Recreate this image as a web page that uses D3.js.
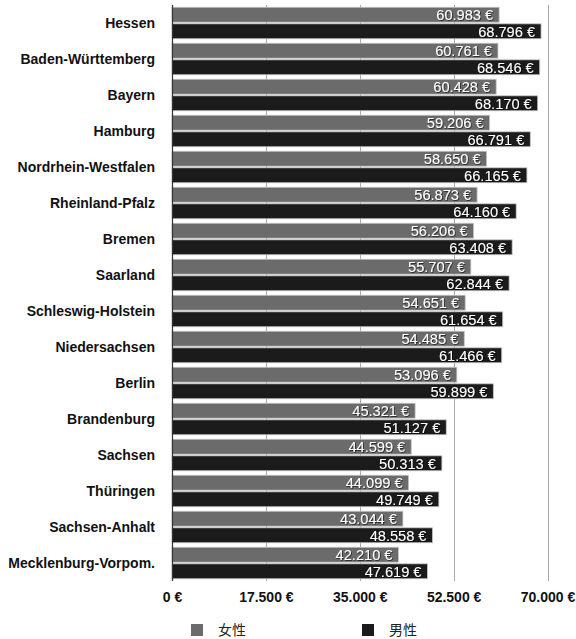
<!DOCTYPE html>
<html>
<head>
<meta charset="utf-8">
<script src="https://cdn.jsdelivr.net/npm/d3@7"></script>
<style>
  html, body { margin: 0; padding: 0; background: #fff; }
  svg { display: block; }
</style>
</head>
<body>
<svg id="chart" width="576" height="639"></svg>
<script>
// Average annual gross earnings by federal state, women vs. men
const states = [
  "Hessen", "Baden-Württemberg", "Bayern", "Hamburg", "Nordrhein-Westfalen",
  "Rheinland-Pfalz", "Bremen", "Saarland", "Schleswig-Holstein", "Niedersachsen",
  "Berlin", "Brandenburg", "Sachsen", "Thüringen", "Sachsen-Anhalt", "Mecklenburg-Vorpom."
];
const women = [60983, 60761, 60428, 59206, 58650, 56873, 56206, 55707, 54651, 54485, 53096, 45321, 44599, 44099, 43044, 42210];
const men   = [68796, 68546, 68170, 66791, 66165, 64160, 63408, 62844, 61654, 61466, 59899, 51127, 50313, 49749, 48558, 47619];
const seriesNames = ["女性", "男性"];
const seriesColors = ["#6b6b6b", "#1b1b1b"];
const tickValues = [0, 17500, 35000, 52500, 70000];

const de = d3.formatLocale({ decimal: ",", thousands: ".", grouping: [3], currency: ["", " €"] });
const fmt = v => de.format(",.0f")(v) + " €";

const svg = d3.select("#chart");
const font = "'Liberation Sans', Arial, Helvetica, sans-serif";

const plotTop = 5, plotBottom = 581;
const x = d3.scaleLinear().domain([0, 70000]).range([172, 547.5]);
const y = d3.scaleBand().domain(states).range([plotTop, plotBottom])
  .paddingInner(0.125).paddingOuter(0.0625);
const ySub = d3.scaleBand().domain(seriesNames).range([0, y.bandwidth()]).paddingInner(0.1);

// drop shadow for the value labels
const defs = svg.append("defs");
const f = defs.append("filter").attr("id", "shadow")
  .attr("x", "-10%").attr("y", "-30%").attr("width", "120%").attr("height", "160%");
f.append("feDropShadow").attr("dx", 0.8).attr("dy", 0.8).attr("stdDeviation", 0.6)
  .attr("flood-color", "#000").attr("flood-opacity", 0.7);

// vertical gridlines
svg.append("g").selectAll("line").data(tickValues.slice(1)).join("line")
  .attr("x1", d => Math.round(x(d)) + 0.5).attr("x2", d => Math.round(x(d)) + 0.5)
  .attr("y1", plotTop).attr("y2", plotBottom)
  .attr("stroke", "#a8a8a8").attr("stroke-width", 1);

// bars
const rows = states.map((s, i) => ({ state: s, values: [women[i], men[i]] }));
const groups = svg.append("g").selectAll("g").data(rows).join("g")
  .attr("transform", d => `translate(0,${y(d.state)})`);

groups.selectAll("rect").data(d => d.values.map((v, j) => ({ v, s: seriesNames[j], c: seriesColors[j] })))
  .join("rect")
  .attr("x", x(0))
  .attr("y", d => ySub(d.s))
  .attr("width", d => x(d.v) - x(0))
  .attr("height", ySub.bandwidth())
  .attr("fill", d => d.c)
  .attr("stroke", "#c4c4c4").attr("stroke-width", 0.8);

groups.selectAll("text").data(d => d.values.map((v, j) => ({ v, s: seriesNames[j] })))
  .join("text")
  .attr("x", d => x(d.v) - 6)
  .attr("y", d => ySub(d.s) + ySub.bandwidth() / 2)
  .attr("dy", "0.36em")
  .attr("text-anchor", "end")
  .attr("fill", "#fff")
  .attr("filter", "url(#shadow)")
  .style("font-family", font).style("font-size", "14.6px")
  .text(d => fmt(d.v));

// category labels
svg.append("g").selectAll("text").data(states).join("text")
  .attr("x", 155)
  .attr("y", d => y(d) + y.bandwidth() / 2)
  .attr("dy", "0.36em")
  .attr("text-anchor", "end")
  .attr("fill", "#111")
  .style("font-family", font).style("font-size", "14px").style("font-weight", "bold")
  .text(d => d);

// baseline axis line
svg.append("line")
  .attr("x1", Math.round(x(0)) + 0.5).attr("x2", Math.round(x(0)) + 0.5)
  .attr("y1", plotTop).attr("y2", plotBottom)
  .attr("stroke", "#333").attr("stroke-width", 1.2);

// x-axis tick labels
const xAxis = d3.axisBottom(x).tickValues(tickValues).tickSize(0).tickPadding(0).tickFormat(fmt);
const gx = svg.append("g").attr("transform", `translate(0,${plotBottom + 11})`).call(xAxis);
gx.select(".domain").remove();
gx.selectAll("text")
  .attr("fill", "#111")
  .style("font-family", font).style("font-size", "14px").style("font-weight", "bold");

// legend
const legend = svg.append("g").selectAll("g").data(seriesNames).join("g")
  .attr("transform", (d, i) => `translate(${[191, 362][i]},624)`);
legend.append("rect").attr("width", 12).attr("height", 12)
  .attr("fill", (d, i) => seriesColors[i]);
legend.append("text").attr("x", 27).attr("y", 6).attr("dy", "0.36em")
  .attr("fill", "#222")
  .style("font-family", "'Noto Sans CJK SC', sans-serif").style("font-size", "14px")
  .text(d => d);
</script>
</body>
</html>
